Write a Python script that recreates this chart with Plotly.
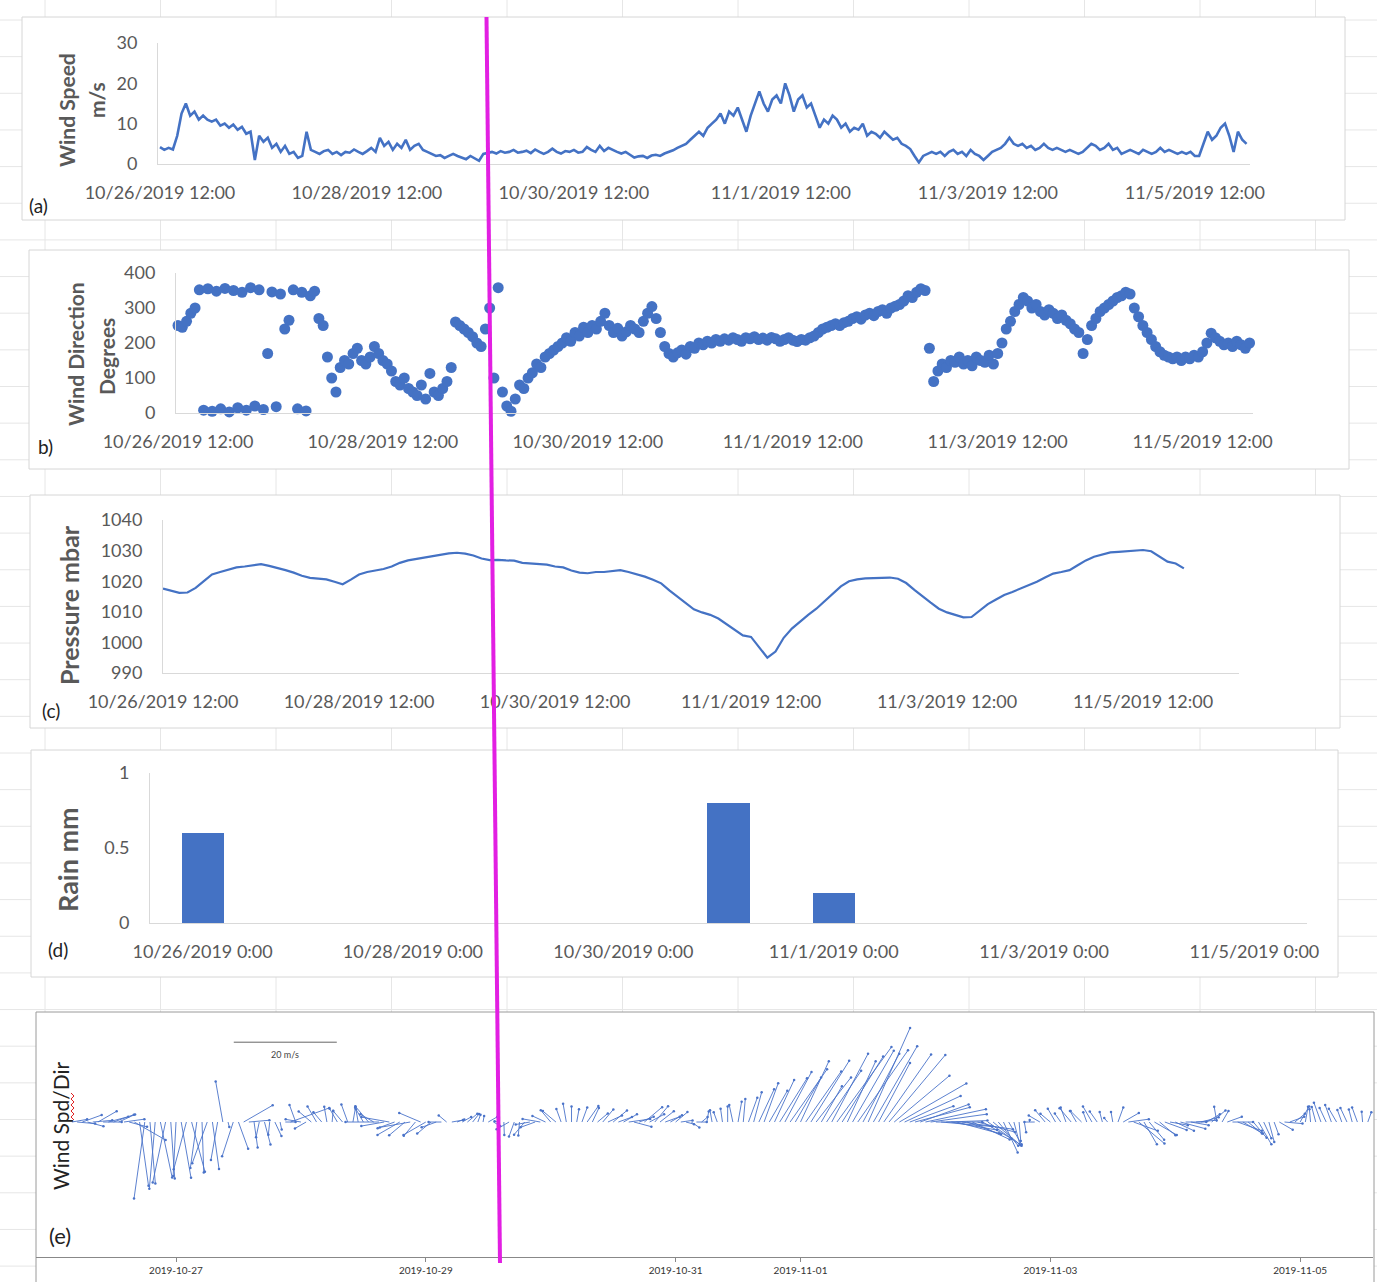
import numpy as np
import pandas as pd
import plotly.graph_objects as go

W, H = 1377, 1282
T0 = pd.Timestamp("2019-10-26 12:00")

# ---------------- data ----------------
# hourly wind speed (m/s) from 10/26/2019 12:00
wind_speed = [
    4.2, 3.5, 4.0, 3.6, 7.0, 12.5, 15.0, 12.0, 13.0, 11.0, 12.0, 11.0,
    10.5, 11.0, 9.5, 10.0, 9.0, 9.8, 8.5, 9.2, 7.5, 8.0, 1.0, 7.0,
    5.5, 6.5, 4.0, 5.0, 3.0, 4.5, 2.5, 3.0, 1.5, 2.0, 8.0, 3.5,
    3.0, 2.5, 3.2, 3.5, 2.5, 3.0, 2.2, 3.0, 2.8, 3.6, 3.0, 2.5,
    3.2, 4.0, 3.0, 6.5, 4.5, 5.5, 3.5, 5.0, 4.0, 6.0, 3.5, 4.5,
    5.0, 3.5, 3.0, 2.5, 2.0, 2.2, 1.5, 2.0, 2.5, 2.0, 1.5, 1.2,
    2.0, 1.5, 0.8, 2.5, 2.8, 3.0, 2.6, 3.2, 2.8, 3.0, 3.5, 2.8,
    3.0, 3.3, 2.7, 3.6, 3.0, 2.5, 3.0, 3.8, 3.0, 2.6, 3.2, 3.0,
    3.5, 2.8, 3.0, 4.2, 3.5, 3.0, 4.5, 3.2, 4.0, 3.4, 3.0, 2.6,
    3.0, 2.3, 1.6, 1.9, 2.0, 1.5, 2.1, 2.3, 2.0, 2.6, 3.0, 3.4,
    4.0, 4.5, 5.0, 6.0, 7.0, 8.0, 7.0, 9.0, 10.0, 11.0, 12.5, 10.0,
    13.0, 12.0, 14.0, 11.0, 8.0, 12.0, 15.0, 18.0, 15.0, 13.0, 16.0, 17.0,
    15.0, 20.0, 17.0, 13.0, 16.0, 17.0, 14.0, 15.0, 12.0, 9.0, 11.0, 10.0,
    12.0, 11.0, 9.0, 10.0, 8.0, 9.0, 8.5, 10.0, 7.0, 8.0, 7.5, 6.5,
    8.0, 7.0, 6.0, 6.5, 5.0, 4.5, 3.7, 2.0, 0.4, 2.0, 2.5, 3.0,
    2.5, 3.0, 2.0, 3.0, 3.5, 2.5, 3.0, 2.0, 3.5, 2.5, 2.0, 1.0,
    2.0, 3.0, 3.5, 4.0, 5.0, 6.5, 5.0, 4.5, 5.0, 4.0, 4.5, 3.5,
    4.0, 5.0, 4.0, 3.5, 4.0, 3.5, 3.0, 3.5, 3.0, 2.5, 3.0, 4.0,
    5.0, 4.5, 3.5, 4.0, 5.0, 3.5, 4.0, 2.5, 3.0, 3.5, 3.0, 2.5,
    3.5, 3.0, 2.5, 3.0, 4.0, 3.0, 3.5, 3.0, 2.5, 3.0, 2.5, 3.0,
    2.0, 2.0, 5.0, 8.0, 6.0, 7.0, 9.0, 10.0, 7.0, 3.0, 8.0, 6.0, 5.0,
]

# hourly wind direction (degrees) from 10/26/2019 12:00
wind_dir = [
    250, 245, 262, 285, 300, 352, 8, 355, 5, 348, 12, 356,
    3, 350, 15, 345, 8, 358, 20, 352, 10, 170, 346, 18,
    340, 240, 265, 352, 12, 345, 6, 335, 348, 270, 250, 160,
    100, 60, 130, 150, 140, 170, 185, 150, 140, 160, 190, 170,
    150, 140, 120, 90, 80, 100, 70, 60, 50, 80, 40, 113,
    60, 50, 70, 90, 130, 260, 250, 240, 230, 218, 200, 190,
    240, 300, 100, 358, 60, 20, 5, 40, 80, 70, 100, 115,
    140, 130, 160, 170, 180, 190, 200, 215, 205, 230, 220, 245,
    230, 250, 240, 262, 285, 250, 230, 242, 220, 232, 250, 240,
    230, 262, 285, 304, 270, 230, 190, 170, 160, 172, 180, 168,
    190, 185, 200, 195, 205, 200, 210, 205, 212, 208, 215, 210,
    205, 215, 212, 218, 210, 214, 208, 216, 212, 205, 210, 215,
    208, 204, 210, 208, 215, 220, 230, 240, 245, 250, 255, 250,
    258, 262, 270, 275, 268, 280, 285, 278, 290, 295, 285, 300,
    305, 310, 320, 335, 330, 345, 355, 350, 185, 90, 120, 140,
    130, 150, 145, 160, 140, 150, 135, 160, 150, 145, 165, 140,
    170, 200, 240, 262, 290, 310, 330, 320, 300, 310, 290, 280,
    295, 285, 270, 280, 265, 255, 240, 230, 170, 210, 250, 270,
    290, 300, 310, 320, 330, 335, 345, 340, 300, 275, 250, 230,
    210, 190, 175, 165, 160, 155, 160, 150, 160, 155, 165, 160,
    175, 200, 228, 215, 205, 195, 200, 190, 205, 195, 185, 200, 190,
]

# 2-hourly pressure (mbar) from 10/26/2019 12:00
pressure = [
    1017.6, 1017.0, 1016.2, 1016.3, 1017.8, 1020.0, 1022.2, 1023.0, 1023.8, 1024.5, 1024.8, 1025.2,
    1025.6, 1025.0, 1024.4, 1023.6, 1022.8, 1021.8, 1021.1, 1020.8, 1020.6, 1019.8, 1019.0, 1020.5,
    1022.2, 1023.0, 1023.4, 1024.0, 1024.8, 1026.0, 1026.8, 1027.3, 1027.8, 1028.3, 1028.6, 1029.1,
    1029.3, 1029.0, 1028.4, 1027.4, 1026.9, 1027.0, 1026.8, 1026.7, 1026.0, 1025.8, 1025.5, 1025.4,
    1024.8, 1024.5, 1023.5, 1022.8, 1022.6, 1023.0, 1023.0, 1023.2, 1023.6, 1023.0, 1022.3, 1021.5,
    1020.5, 1019.3, 1017.0, 1014.9, 1012.8, 1010.8, 1009.8, 1009.0, 1007.8, 1006.0, 1004.0, 1002.3,
    1001.8, 998.5, 995.0, 997.0, 1001.5, 1004.5, 1006.8, 1009.0, 1011.0, 1013.5, 1016.0, 1018.3,
    1020.0, 1020.6, 1020.9, 1021.0, 1021.2, 1021.2, 1020.8, 1019.4, 1017.2, 1015.0, 1013.0, 1011.0,
    1009.8, 1009.0, 1008.2, 1008.3, 1010.5, 1012.5, 1014.0, 1015.5, 1016.5, 1017.6, 1018.8, 1019.8,
    1021.2, 1022.5, 1023.0, 1023.6, 1025.2, 1026.8, 1028.0, 1028.8, 1029.4, 1029.6, 1029.8, 1030.2,
    1030.2, 1029.8, 1028.0, 1026.4, 1025.8, 1024.2,
]

# daily rain (mm)
rain_days = ["2019-10-26", "2019-10-27", "2019-10-28", "2019-10-29", "2019-10-30", "2019-10-31",
             "2019-11-01", "2019-11-02", "2019-11-03", "2019-11-04", "2019-11-05"]
rain_mm = [0.6, 0, 0, 0, 0, 0.8, 0.2, 0, 0, 0, 0]

# extra hourly samples shown only in the stick plot (before 10/26 12:00)
early_speed = [3.0, 3.5, 4.0, 3.2, 3.8, 4.2, 3.6, 4.0]
early_dir = [260, 275, 250, 285, 265, 240, 270, 255]

# tick labels
tick_ab = pd.date_range(T0, periods=6, freq="48h")
tick_ab_text = [f"{t.month}/{t.day}/{t.year} 12:00" for t in tick_ab]
tick_d = pd.date_range("2019-10-26", periods=6, freq="48h")
tick_d_text = [f"{t.month}/{t.day}/{t.year} 0:00" for t in tick_d]
tick_e_text = ["2019-10-27", "2019-10-29", "2019-10-31", "2019-11-01", "2019-11-03", "2019-11-05"]
tick_e = pd.to_datetime(tick_e_text)

# ---------------- helpers ----------------
def hrs(h):
    return T0 + pd.Timedelta(hours=h)

def xdom(x0, x1):
    return [x0 / W, x1 / W]

def ydom(ytop, ybot):
    return [1 - ybot / H, 1 - ytop / H]

BLUE = "#4472C4"
FONT = "Lato"
GRAY_TXT = "#595959"
AXLINE = "#D9D9D9"

hourly_times = pd.date_range(T0, periods=len(wind_speed), freq="h")
pressure_times = pd.date_range(T0, periods=len(pressure), freq="2h")
early_times = pd.date_range(T0 - pd.Timedelta(hours=len(early_speed)), periods=len(early_speed), freq="h")

fig = go.Figure()

# (a) wind speed
fig.add_trace(go.Scatter(x=hourly_times, y=wind_speed, mode="lines",
                         line=dict(color=BLUE, width=2.6), xaxis="x", yaxis="y",
                         showlegend=False))
# (b) wind direction
fig.add_trace(go.Scatter(x=hourly_times, y=wind_dir, mode="markers",
                         marker=dict(color=BLUE, size=11), xaxis="x2", yaxis="y2",
                         cliponaxis=False, showlegend=False))
# (c) pressure
fig.add_trace(go.Scatter(x=pressure_times, y=pressure, mode="lines",
                         line=dict(color=BLUE, width=2.2), xaxis="x3", yaxis="y3",
                         showlegend=False))
# (d) rain
fig.add_trace(go.Bar(x=pd.to_datetime(rain_days), y=rain_mm, width=0.4 * 86400000,
                     marker=dict(color=BLUE, line=dict(width=0)), xaxis="x4", yaxis="y4",
                     showlegend=False))

# (e) stick plot: sticks drawn toward the direction the wind blows
STICK_HOURS_PER_MS = 0.99  # horizontal length of 1 m/s in hours (same pixel scale as vertical)
st_times = early_times.append(hourly_times)
st_speed = np.array(early_speed + wind_speed, dtype=float)
st_rad = np.radians(np.array(early_dir + wind_dir, dtype=float))
u = -st_speed * np.sin(st_rad)
v = -st_speed * np.cos(st_rad)
tips = st_times + pd.to_timedelta(u * STICK_HOURS_PER_MS, unit="h")
xs, ys = [], []
for b, t, vv in zip(st_times, tips, v):
    xs += [b, t, None]
    ys += [0, vv, None]
fig.add_trace(go.Scatter(x=xs, y=ys, mode="lines", line=dict(color="#4A73C9", width=0.9),
                         xaxis="x5", yaxis="y5", showlegend=False))
fig.add_trace(go.Scatter(x=tips, y=v, mode="markers", marker=dict(color="#4A73C9", size=2.5),
                         xaxis="x5", yaxis="y5", showlegend=False))
# scale bar 20 m/s
fig.add_trace(go.Scatter(x=[hrs(23.1), hrs(23.1 + 20 * STICK_HOURS_PER_MS)], y=[15.5, 15.5],
                         mode="lines", line=dict(color="#666666", width=1),
                         xaxis="x5", yaxis="y5", showlegend=False))

tf = dict(family=FONT, size=18, color=GRAY_TXT)

def base_x(dom, rng, tv, tt, anchor):
    return dict(domain=dom, anchor=anchor, type="date", range=rng, tickvals=list(tv), ticktext=tt,
                showline=True, linecolor=AXLINE, linewidth=1, showgrid=False, zeroline=False,
                ticks="", tickfont=tf, ticklabelstandoff=12, fixedrange=True, automargin=False)

def base_y(dom, rng, tv, tt, anchor):
    return dict(domain=dom, anchor=anchor, range=rng, tickvals=tv, ticktext=tt,
                showline=True, linecolor=AXLINE, linewidth=1, showgrid=False, zeroline=False,
                ticks="", tickfont=tf, ticklabelstandoff=16, fixedrange=True, automargin=False)

layout = dict(
    width=W, height=H, autosize=False,
    margin=dict(l=0, r=0, t=0, b=0, pad=0, autoexpand=False),
    paper_bgcolor="white", plot_bgcolor="rgba(0,0,0,0)",
    font=dict(family=FONT, color=GRAY_TXT),
    showlegend=False, bargap=0,
    xaxis=base_x(xdom(158, 1250), [hrs(-0.46), hrs(252.8)], tick_ab, tick_ab_text, "y"),
    yaxis=base_y(ydom(43, 164), [0, 30], [0, 10, 20, 30], ["0", "10", "20", "30"], "x"),
    xaxis2=base_x(xdom(176, 1253), [hrs(-0.47), hrs(251.8)], tick_ab, tick_ab_text, "y2"),
    yaxis2=base_y(ydom(273, 413), [0, 400], [0, 100, 200, 300, 400],
                  ["0", "100", "200", "300", "400"], "x2"),
    xaxis3=base_x(xdom(163, 1239), [hrs(0), hrs(263.5)], tick_ab, tick_ab_text, "y3"),
    yaxis3=base_y(ydom(520, 673), [990, 1040], [990, 1000, 1010, 1020, 1030, 1040],
                  ["990", "1000", "1010", "1020", "1030", "1040"], "x3"),
    xaxis4=base_x(xdom(150, 1307), ["2019-10-25 12:00", "2019-11-05 12:00"], tick_d, tick_d_text, "y4"),
    yaxis4=base_y(ydom(773, 923), [0, 1], [0, 0.5, 1], ["0", "0.5", "1"], "x4"),
    xaxis5=dict(domain=xdom(36, 1373), anchor="y5", type="date", range=[hrs(-14.9), hrs(242.0)],
                tickvals=list(tick_e), ticktext=tick_e_text, showline=True, linecolor="#888888",
                linewidth=1, ticks="outside", ticklen=4, tickcolor="#888888", showgrid=False,
                zeroline=False, tickfont=dict(family=FONT, size=10, color="#333333"),
                fixedrange=True, automargin=False),
    yaxis5=dict(domain=ydom(1012, 1257), anchor="x5", range=[-26.2, 21.36], visible=False,
                fixedrange=True, automargin=False),
)

shapes = []
# faint worksheet grid behind the chart boxes
for k in range(12):
    x = 45 + 115.5 * k
    shapes.append(dict(type="line", xref="paper", yref="paper", x0=x / W, x1=x / W, y0=0, y1=1,
                       line=dict(color="#E6E6E6", width=1), layer="below"))
for k in range(35):
    y = 20 + 36.65 * k
    shapes.append(dict(type="line", xref="paper", yref="paper", x0=0, x1=1, y0=1 - y / H, y1=1 - y / H,
                       line=dict(color="#E6E6E6", width=1), layer="below"))
# chart boxes
boxes = [(22, 17, 1345, 220), (29, 250, 1349, 469), (30, 495, 1340, 728), (31, 750, 1338, 977)]
for x0, y0, x1, y1 in boxes:
    shapes.append(dict(type="rect", xref="paper", yref="paper", x0=x0 / W, x1=x1 / W,
                       y0=1 - y1 / H, y1=1 - y0 / H, fillcolor="white",
                       line=dict(color="#D6D6D6", width=1), layer="below"))
shapes.append(dict(type="rect", xref="paper", yref="paper", x0=36 / W, x1=1374 / W,
                   y0=-0.01, y1=1 - 1012 / H, fillcolor="white",
                   line=dict(color="#9A9A9A", width=1), layer="below"))
# red spell-check squiggle under "Spd"
zig = []
for i, yy in enumerate(range(1093, 1121, 3)):
    xx = 71 if i % 2 == 0 else 74
    zig.append(f"{'M' if i == 0 else 'L'} {xx / W:.5f},{1 - yy / H:.5f}")
shapes.append(dict(type="path", xref="paper", yref="paper", path=" ".join(zig),
                   line=dict(color="#E02020", width=1)))
# magenta marker line across all panels
shapes.append(dict(type="line", xref="paper", yref="paper", x0=486.5 / W, y0=1 - 17 / H,
                   x1=500 / W, y1=1 - 1263 / H, line=dict(color="#E21FE2", width=4), layer="above"))
layout["shapes"] = shapes

def ann(text, x, y, size, color="#222222", angle=0):
    return dict(text=text, x=x / W, y=1 - y / H, xref="paper", yref="paper", showarrow=False,
                xanchor="center", yanchor="middle", textangle=angle,
                font=dict(family=FONT, size=size, color=color))

annotations = [
    ann("(a)", 38, 206, 19),
    ann("b)", 45, 446, 19),
    ann("(c)", 51, 710, 19),
    ann("(d)", 58, 949, 19),
    ann("(e)", 60, 1235, 22),
    ann("<b>Wind Speed</b>", 67, 110, 21, GRAY_TXT, -90),
    ann("<b>m/s</b>", 96, 100, 21, GRAY_TXT, -90),
    ann("<b>Wind Direction</b>", 76, 354, 21, GRAY_TXT, -90),
    ann("<b>Degrees</b>", 106, 356, 21, GRAY_TXT, -90),
    ann("<b>Pressure mbar</b>", 69, 605, 25, GRAY_TXT, -90),
    ann("<b>Rain mm</b>", 67, 860, 27, GRAY_TXT, -90),
    ann("Wind Spd/Dir", 60, 1126, 21, "#222222", -90),
    ann("20 m/s", 285, 1054, 9, "#444444"),
]
layout["annotations"] = annotations

fig.update_layout(**layout)
fig.write_html("out.html")
